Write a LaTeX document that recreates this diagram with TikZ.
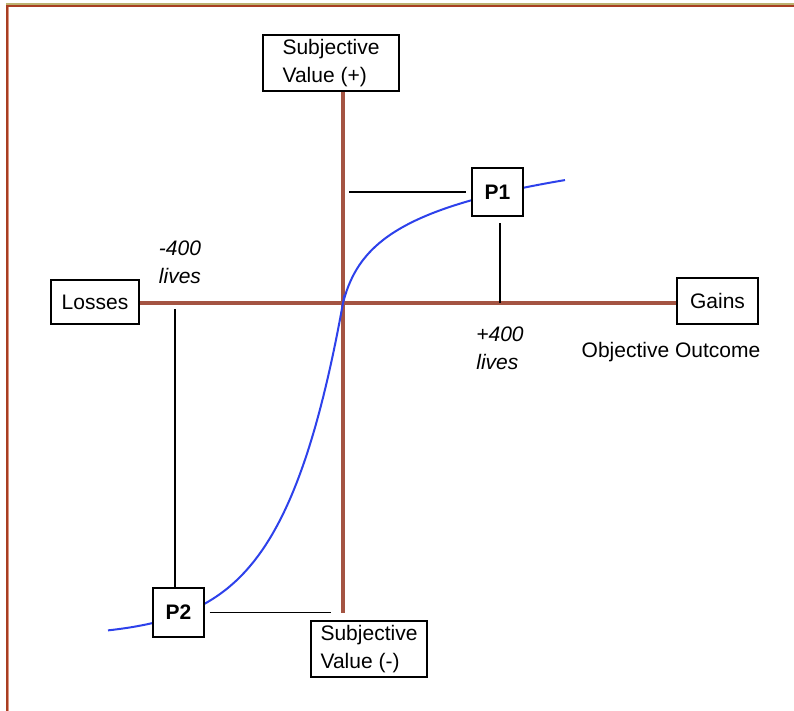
\documentclass[tikz,border=0pt]{standalone}
\usepackage{fontspec}
\setmainfont{Liberation Sans}
\usetikzlibrary{backgrounds}
\definecolor{axisbrown}{RGB}{164,84,66}
\definecolor{curveblue}{RGB}{45,65,235}
\definecolor{frameRed}{RGB}{168,62,34}
\definecolor{frameLight}{RGB}{220,150,130}
\definecolor{frameOlive}{RGB}{188,178,112}
\begin{document}
\begin{tikzpicture}[x=1bp,y=-1bp,
  txt/.style={font=\fontsize{21bp}{28bp}\selectfont, inner sep=0pt, align=left},
  itxt/.style={font=\fontsize{21bp}{28bp}\selectfont\itshape, inner sep=0pt, align=left},
  box/.style={txt, draw=black, line width=1.4bp, fill=white},
  pbox/.style={box, font=\fontsize{21bp}{28bp}\selectfont\bfseries},
  axisline/.style={draw=axisbrown, line width=3.5bp},
  conn/.style={draw=black, line width=1.4bp},
  curve/.style={draw=curveblue, line width=2bp}]
\useasboundingbox (0,0) rectangle (794,711);
% boxes
\node[box, minimum width=136bp, minimum height=56bp] (svp) at (331,63) {Subjective\\Value (+)};
\node[box, minimum width=116bp, minimum height=56bp] (svm) at (369,649) {Subjective\\Value (-)};
\node[box, minimum width=88bp, minimum height=44bp] (loss) at (95,302) {Losses};
\node[box, minimum width=81bp, minimum height=46bp] (gain) at (717.5,301) {Gains};
\node[pbox, minimum width=51bp, minimum height=48bp] (p1) at (497.5,192) {P1};
\node[pbox, minimum width=51bp, minimum height=49bp] (p2) at (178.5,612.5) {P2};
% labels
\node[itxt] (lneg) at (180,262) {-400\\lives};
\node[itxt] (lpos) at (500,348) {+400\\lives};
\node[txt] (obj) at (671,352) {Objective Outcome};
% coordinates
\coordinate (O) at (343,303);
\coordinate (vb) at (343,613);
\coordinate (p1h) at (349,192);
\coordinate (p1v) at (500,303);
\coordinate (p1vt) at (500,223);
\coordinate (p2v) at (175,309);
\coordinate (p2h) at (331,613);
\begin{scope}[on background layer]
\fill[white] (0,0) rectangle (794,711);
% frame
\draw[frameLight, line width=1.5bp] (8.5,7) -- (8.5,711);
\draw[frameRed, line width=2bp] (7,4) -- (7,711);
\draw[frameOlive, line width=1.5bp] (6,3.8) -- (794,3.8);
\draw[frameRed, line width=2bp] (6,5.7) -- (794,5.7);
\draw[axisline] (svp.south -| O) -- (vb);
\draw[axisline] (loss.east |- O) -- (gain.west |- O);
\draw[curve] plot[domain=235:0, samples=120] ({343-\x},{303+334*(1-exp(-\x/60))})
  -- plot[domain=0:222, samples=120] ({343+\x},{303-39.1*ln(1+\x/10)});
\end{scope}
% connectors
\draw[conn] (p1h) -- ([xshift=-5bp]p1.west);
\draw[conn] (p1v) -- (p1vt);
\draw[conn] (p2v) -- (p2v |- p2.north);
\draw[conn] ([xshift=5bp]p2.east) -- (p2h |- p2.east);
\end{tikzpicture}
\end{document}
